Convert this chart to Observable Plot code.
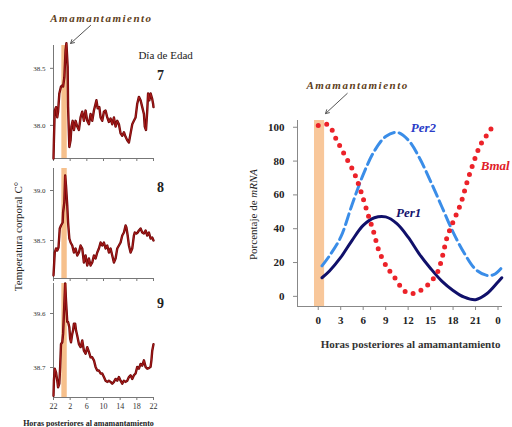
<!DOCTYPE html>
<html><head><meta charset="utf-8">
<script src="https://cdn.jsdelivr.net/npm/d3@7"></script>
<script src="https://cdn.jsdelivr.net/npm/@observablehq/plot@0.6"></script>
<style>
body{margin:0;background:#fff;}
#wrap{position:relative;width:512px;height:427px;overflow:hidden;background:#fff;}
#wrap svg{position:absolute;overflow:visible;}
</style></head><body><div id="wrap"></div>
<script>
// ---------- data ----------
const feedingLabel = "Amamantamiento";
const dayTitle = "Día de Edad";
const dayNames = ["7", "8", "9"];
const leftYLabel = "Temperatura corporal C°";
const xLabel = "Horas posteriores al amamantamiento";
const rightYLabel = "Porcentaje de mRNA";
const seriesNames = ["Per1", "Per2", "Bmal"];

// left panels: hours after 22:00, tick labels are clock hours
const clockTickHours = [0, 4, 8, 12, 16, 20, 24];
const clockTickLabels = ["22", "2", "6", "10", "14", "18", "22"];
const feedLeft = {start: 2.0, end: 3.3};

const day7Hours = [0,0.1,0.3,0.6,0.9,1.1,1.4,1.8,2.1,2.3,2.6,2.9,3.1,3.4,3.5,3.8,4.1,4.3,4.6,4.9,5.3,5.7,6.1,6.5,6.9,7.3,7.7,8.1,8.5,8.9,9.3,9.7,10.1,10.3,10.6,11.0,11.3,11.7,12.1,12.5,12.9,13.3,13.7,14.1,14.5,14.9,15.3,15.7,16.1,16.5,16.9,17.3,17.7,18.1,18.5,18.9,19.3,19.7,20.1,20.5,20.9,21.3,21.7,21.9,22.2,22.5,22.7,23.0,23.3,23.7,23.9,24.0];
const day7Temp = [37.71,37.87,38.13,38.16,38.07,38.12,38.28,38.34,38.35,38.34,38.42,38.66,38.72,38.51,38.16,37.81,37.87,37.99,38.04,37.96,38.04,37.99,37.96,38.07,38.12,38.04,38.13,38.04,38.01,38.10,38.04,38.13,38.19,38.22,38.15,38.16,38.07,38.04,38.12,38.13,38.07,38.03,38.06,38.01,38.07,37.99,38.04,38.01,37.93,37.91,37.94,37.90,37.87,37.85,37.93,38.01,38.04,38.07,38.19,38.25,38.22,38.16,38.10,37.99,37.96,38.13,38.28,38.22,38.28,38.23,38.19,38.16];
const day7Ticks = [38.0, 38.5];

const day8Hours = [0.0,0.3,0.6,0.9,1.2,1.5,1.8,2.2,2.3,2.6,2.8,3.0,3.3,3.5,3.8,4.1,4.5,4.9,5.3,5.7,6.1,6.5,6.9,7.3,7.7,8.1,8.5,8.9,9.3,9.7,10.1,10.5,10.9,11.3,11.7,12.1,12.5,12.9,13.3,13.7,14.1,14.5,14.9,15.3,15.7,16.1,16.5,16.9,17.3,17.5,17.8,18.1,18.5,18.9,19.3,19.5,19.9,20.2,20.5,20.9,21.3,21.7,22.1,22.5,22.9,23.3,23.7,24.0];
const day8Temp = [38.15,38.38,38.42,38.40,38.43,38.62,38.65,38.68,38.78,38.88,39.15,39.05,38.85,38.68,38.52,38.48,38.45,38.38,38.42,38.35,38.38,38.45,38.42,38.28,38.35,38.25,38.32,38.25,38.28,38.35,38.32,38.38,38.42,38.48,38.45,38.48,38.42,38.45,38.38,38.42,38.35,38.28,38.32,38.42,38.45,38.48,38.55,38.58,38.65,38.63,38.55,38.45,38.38,38.42,38.55,38.58,38.57,38.58,38.60,38.62,38.58,38.57,38.60,38.55,38.58,38.52,38.53,38.50];
const day8Ticks = [38.5, 39.0];

const day9Hours = [0.0,0.1,0.3,0.6,0.9,1.1,1.4,1.6,1.8,2.1,2.3,2.6,2.8,3.0,3.3,3.5,3.8,4.0,4.2,4.5,4.7,4.9,5.2,5.4,5.7,6.1,6.5,6.9,7.3,7.7,8.1,8.5,8.9,9.3,9.7,10.1,10.5,10.9,11.3,11.7,12.1,12.5,12.9,13.3,13.7,14.1,14.5,14.9,15.3,15.7,16.1,16.5,16.9,17.3,17.7,18.1,18.5,18.9,19.3,19.7,20.1,20.5,20.9,21.3,21.7,22.1,22.5,22.9,23.3,23.5,23.7,24.0];
const day9Temp = [38.23,38.48,38.68,38.62,38.48,38.37,38.43,38.71,39.09,39.12,39.26,39.76,40.10,39.82,39.46,39.46,39.37,39.18,39.12,39.26,39.32,39.43,39.43,39.32,39.23,39.09,39.04,39.15,38.98,38.93,39.04,38.96,38.87,38.87,38.82,38.71,38.65,38.65,38.60,38.60,38.54,38.48,38.46,38.48,38.46,38.43,38.46,38.51,38.48,38.54,38.48,38.43,38.48,38.46,38.48,38.54,38.57,38.51,38.57,38.60,38.71,38.68,38.76,38.73,38.82,38.71,38.68,38.69,38.71,38.82,38.98,39.09];
const day9Ticks = [38.7, 39.6];

// right chart
const rightTickHours = [0, 3, 6, 9, 12, 15, 18, 21, 24];
const rightTickLabels = ["0", "3", "6", "9", "12", "15", "18", "21", "0"];
const percentTicks = [0, 20, 40, 60, 80, 100];
const feedRight = {start: -0.5, end: 0.85};

const per1Hours = [0.5,1.5,3,4.5,6,7.5,9,10.5,12,13.5,15,16.5,18,19.5,21,22.5,24,24.5];
const per1Values = [11,15,23,33,42,46.5,47,43,35,25,16.5,9,3.5,-0.5,-2,1.5,8.5,11];
const per2Hours = [0.5,1.5,3,4.5,6,7.5,9,10.5,12,13.5,15,16.5,18,19.5,21,22.5,23.5,24.5];
const per2Values = [18,24,35,54,72,86,94.5,97,92.5,82,68,53,38,25.5,16,12.4,13,17];
const bmalHours = [0,1.3,2.5,3.6,4.8,5.7,6.6,7.4,8.1,9.2,9.9,10.6,11.2,12.1,13.2,14.3,15,15.9,16.6,17.2,18.1,19,19.9,20.8,21.7,22.6,23.6];
const bmalValues = [101,101.5,92,83,73,62,49,38,27,17,13,8.5,4.5,1.6,2.5,5.5,8.5,14,24,35,45,54.5,68,80,90,96,102.5];

// ---------- drawing ----------
const FONT = "Liberation Serif, Times New Roman, serif";
const wrap = document.getElementById("wrap");
const place = (svg, left, top) => { svg.style.left = left + "px"; svg.style.top = top + "px"; wrap.appendChild(svg); return svg; };
const pairs = (xs, ys) => xs.map((h, i) => ({h, v: ys[i]}));

function leftPanel(o) {
  const data = pairs(o.hours, o.temps);
  return Plot.plot({
    width: 205, height: o.height,
    marginLeft: 53, marginRight: 52, marginTop: o.mt, marginBottom: o.mb,
    x: {domain: [0, 24]}, y: {domain: o.yDomain},
    style: {fontFamily: FONT, background: "transparent", overflow: "visible", color: "#333"},
    marks: [
      Plot.rect([feedLeft], {x1: "start", x2: "end", fill: "#f6c08c"}),
      Plot.ruleX([0], {stroke: "#777"}),
      Plot.ruleY([o.yDomain[0]], {stroke: "#777"}),
      Plot.axisY({ticks: o.yTicks, tickFormat: d => d.toFixed(1), tickSize: 3, tickPadding: 5, fontSize: 7, label: null, stroke: "#777", fill: "#333"}),
      Plot.axisX({ticks: clockTickHours, tickFormat: o.showLabels ? (d => clockTickLabels[clockTickHours.indexOf(d)]) : (() => ""), tickSize: 3, tickPadding: 3, fontSize: 8, label: null, stroke: "#777", fill: "#333"}),
      Plot.line(data, {x: "h", y: "v", stroke: "#6e0808", strokeWidth: 2.4}),
      Plot.line(data, {x: "h", y: "v", stroke: "#b82020", strokeWidth: 0.8}),
      ...o.extras
    ]
  });
}

const p1 = leftPanel({hours: day7Hours, temps: day7Temp, yDomain: [37.71, 38.70], yTicks: day7Ticks, height: 165, mt: 45, mb: 7, showLabels: false,
  extras: [
    Plot.text([feedingLabel], {x: 11.5, y: 38.94, fontSize: 11, fontWeight: "bold", fontStyle: "italic", fill: "#5e4020"}),
    Plot.arrow([0], {x1: 8.9, y1: 38.876, x2: 4.1, y2: 38.718, stroke: "#555", strokeWidth: 1, headLength: 6}),
    Plot.text([dayTitle], {x: 26.9, y: 38.613, fontSize: 11, fill: "#222"}),
    Plot.text([dayNames[0]], {x: 25.7, y: 38.437, fontSize: 14, fontWeight: "bold", fill: "#222"})
  ]});
place(p1, 0, 0);

const p2 = leftPanel({hours: day8Hours, temps: day8Temp, yDomain: [38.12, 39.22], yTicks: day8Ticks, height: 125, mt: 8, mb: 7, showLabels: false,
  extras: [
    Plot.text([dayNames[1]], {x: 25.7, y: 39.03, fontSize: 14, fontWeight: "bold", fill: "#222"}),
    Plot.text([leftYLabel], {x: -8.4, y: 38.54, rotate: -90, fontSize: 11, fill: "#222"})
  ]});
place(p2, 0, 160);

const p3 = leftPanel({hours: day9Hours, temps: day9Temp, yDomain: [38.2, 40.1], yTicks: day9Ticks, height: 152, mt: 8, mb: 30, showLabels: true,
  extras: [
    Plot.text([dayNames[2]], {x: 25.7, y: 39.77, fontSize: 14, fontWeight: "bold", fill: "#222"}),
    Plot.text([xLabel], {x: 8.4, y: 37.767, fontSize: 8, fontWeight: "bold", fill: "#222"})
  ]});
place(p3, 0, 275);

const xDom = [-2.77, 24.6], yDom = [-6, 104];
const right = Plot.plot({
  width: 272, height: 290, marginLeft: 57, marginRight: 10, marginTop: 50, marginBottom: 54,
  x: {domain: xDom}, y: {domain: yDom},
  style: {fontFamily: FONT, background: "transparent", overflow: "visible", color: "#222"},
  marks: [
    Plot.rect([feedRight], {x1: "start", x2: "end", fill: "#f8c79a"}),
    Plot.ruleX([xDom[0]], {stroke: "#888"}),
    Plot.ruleY([yDom[0]], {stroke: "#888"}),
    Plot.axisX({ticks: rightTickHours, tickFormat: d => rightTickLabels[rightTickHours.indexOf(d)], tickSize: 4, tickPadding: 6, fontSize: 11, fontWeight: "bold", label: null, stroke: "#888", fill: "#222"}),
    Plot.axisY({ticks: percentTicks, tickSize: 4, tickPadding: 9, fontSize: 11, fontWeight: "bold", label: null, stroke: "#888", fill: "#222"}),
    Plot.line(pairs(per2Hours, per2Values), {x: "h", y: "v", stroke: "#3a8de8", strokeWidth: 3, strokeDasharray: "11,5", curve: "catmull-rom"}),
    Plot.line(pairs(per1Hours, per1Values), {x: "h", y: "v", stroke: "#10106a", strokeWidth: 3, curve: "catmull-rom"}),
    Plot.line(pairs(bmalHours, bmalValues), {x: "h", y: "v", stroke: "#ec2229", strokeWidth: 5, strokeDasharray: "0,8.5", strokeLinecap: "round", curve: "catmull-rom"}),
    Plot.text([feedingLabel], {x: 5.25, y: 124.7, fontSize: 11, fontWeight: "bold", fontStyle: "italic", fill: "#5e4020"}),
    Plot.arrow([0], {x1: 3.87, y1: 120, x2: 0.97, y2: 108.1, stroke: "#555", strokeWidth: 1, headLength: 6}),
    Plot.text([seriesNames[1]], {x: 14.05, y: 99.9, fontSize: 13, fontWeight: "bold", fontStyle: "italic", fill: "#2a3cc8"}),
    Plot.text([seriesNames[0]], {x: 12.06, y: 49.6, fontSize: 13, fontWeight: "bold", fontStyle: "italic", fill: "#14146e"}),
    Plot.text([seriesNames[2]], {x: 21.7, y: 77.4, fontSize: 13, fontWeight: "bold", fontStyle: "italic", fill: "#e02028", textAnchor: "start"}),
    Plot.text([xLabel], {x: 12.32, y: -28.5, fontSize: 11, fontWeight: "bold", fill: "#333"}),
    Plot.text([rightYLabel], {x: -8.64, y: 48.4, rotate: -90, fontSize: 11, fill: "#222"})
  ]
});
place(right, 240, 70);

// letter spacing for the feeding labels, italic mRNA
d3.selectAll("#wrap text").filter(function() { return this.textContent === feedingLabel; }).attr("letter-spacing", 1.5);
d3.selectAll("#wrap text").filter(function() { return this.textContent === rightYLabel; }).each(function() {
  const t = d3.select(this);
  t.text("Porcentaje de ");
  t.append("tspan").attr("font-style", "italic").text("mRNA");
});
</script></body></html>
